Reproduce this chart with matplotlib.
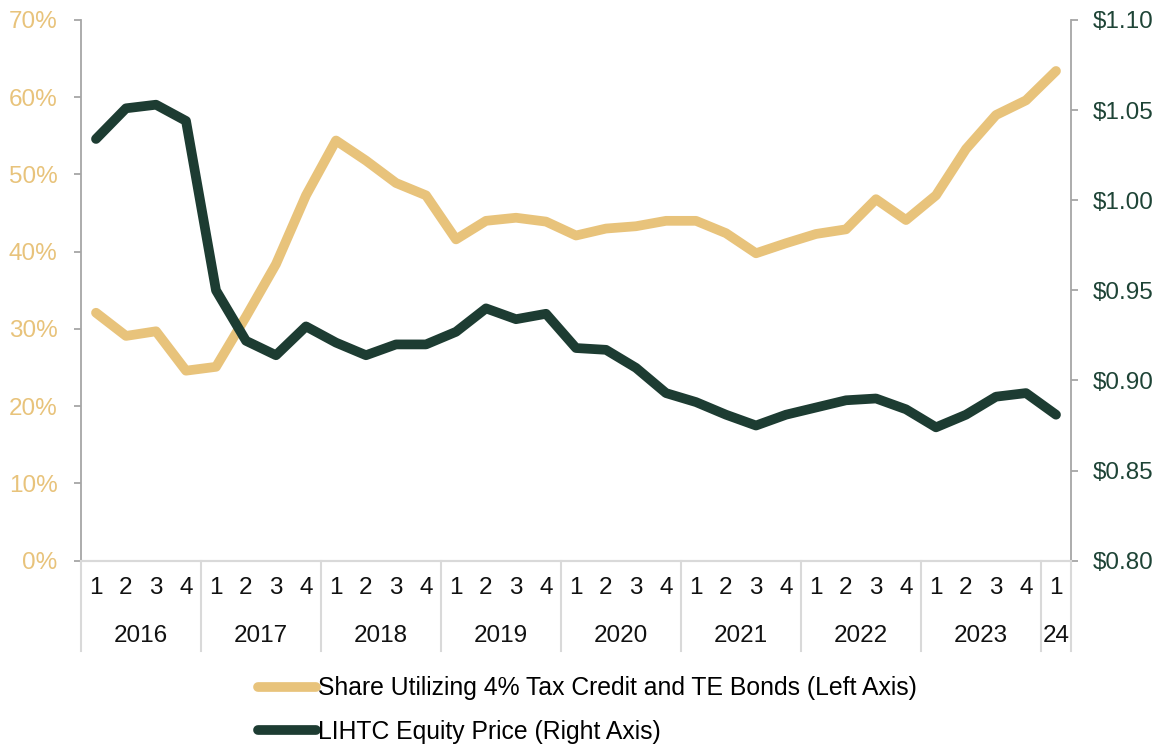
import matplotlib
matplotlib.use("Agg")
import matplotlib.pyplot as plt
from matplotlib.lines import Line2D
from matplotlib.ticker import FuncFormatter
import matplotlib.transforms as mtransforms

plt.rcParams['font.family'] = ['Liberation Sans', 'DejaVu Sans']

# quarterly series, 2016 Q1 .. 2024 Q1
years = ['2016', '2017', '2018', '2019', '2020', '2021', '2022', '2023', '24']
quarters = ['1', '2', '3', '4'] * 8 + ['1']

share_4pct = [32.1, 29.1, 29.7, 24.6,
              25.1, 31.6, 38.4, 47.3,
              54.4, 51.8, 48.9, 47.3,
              41.6, 44.0, 44.4, 43.9,
              42.1, 43.0, 43.3, 44.0,
              44.0, 42.4, 39.8, 41.1,
              42.3, 42.9, 46.8, 44.1,
              47.3, 53.3, 57.7, 59.6,
              63.4]

equity_price = [1.034, 1.051, 1.053, 1.044,
                0.950, 0.922, 0.914, 0.930,
                0.921, 0.914, 0.920, 0.920,
                0.927, 0.940, 0.934, 0.937,
                0.918, 0.917, 0.907, 0.893,
                0.888, 0.881, 0.875, 0.881,
                0.885, 0.889, 0.890, 0.884,
                0.874, 0.881, 0.891, 0.893,
                0.881]

gold = '#E8C37B'
green = '#1D3C32'
green_txt = '#1E4436'
spine_grey = '#A6A6A6'
sep_grey = '#D9D9D9'
fs = 17.5

fig = plt.figure(figsize=(11.61, 7.44), dpi=100)
ax = fig.add_axes([81 / 1161, 1 - 560.7 / 744, 990 / 1161, 540.7 / 744])
ax2 = ax.twinx()

x = list(range(len(share_4pct)))
ax.plot(x, share_4pct, color=gold, lw=7, solid_capstyle='round', zorder=2)
ax2.plot(x, equity_price, color=green, lw=7, solid_capstyle='round', zorder=3)

ax.set_xlim(-0.5, len(x) - 0.5)
ax.set_ylim(0, 70)
ax2.set_ylim(0.80, 1.10)
ax.set_yticks(range(0, 71, 10))
ax2.set_yticks([0.80, 0.85, 0.90, 0.95, 1.00, 1.05, 1.10])
ax.yaxis.set_major_formatter(FuncFormatter(lambda v, p: f'{v:.0f}%'))
ax2.yaxis.set_major_formatter(FuncFormatter(lambda v, p: f'${v:.2f}'))

for a in (ax, ax2):
    a.spines['top'].set_visible(False)
    a.spines['bottom'].set_color(sep_grey)
    a.spines['bottom'].set_linewidth(1.5)
ax.spines['right'].set_visible(False)
ax2.spines['left'].set_visible(False)
ax.spines['left'].set_color(spine_grey)
ax.spines['left'].set_linewidth(1.3)
ax2.spines['right'].set_color(spine_grey)
ax2.spines['right'].set_linewidth(1.3)

ax.tick_params(axis='y', colors=spine_grey, labelcolor=gold, labelsize=fs,
               length=5, width=1.3, pad=12)
ax2.tick_params(axis='y', colors=spine_grey, labelcolor=green_txt, labelsize=fs,
                length=5, width=1.3, pad=11)

ax.set_xticks(x)
ax.set_xticklabels(quarters)
ax.tick_params(axis='x', length=0, labelsize=fs, labelcolor='#111111', pad=12)

# year labels and separators under the axis
trans = mtransforms.blended_transform_factory(ax.transData, ax.transAxes)
bounds = list(range(0, len(x), 4)) + [len(x)]
for i, yr in enumerate(years):
    lo, hi = bounds[i], bounds[i + 1]
    ax.text((lo + hi - 1) / 2, -0.139, yr, transform=trans, ha='center',
            va='center', fontsize=fs, color='#111111')
for b in bounds:
    ax.add_line(Line2D([b - 0.5, b - 0.5], [0, -0.167], transform=trans,
                       color=sep_grey, lw=1.5, clip_on=False))

handles = [Line2D([], [], color=gold, lw=7, solid_capstyle='round'),
           Line2D([], [], color=green, lw=7, solid_capstyle='round')]
labels = ['Share Utilizing 4% Tax Credit and TE Bonds (Left Axis)',
          'LIHTC Equity Price (Right Axis)']
fig.legend(handles, labels, loc='upper left', bbox_to_anchor=(0.222, 0.091),
           frameon=False, fontsize=17.8, handlelength=2.35, handletextpad=0.1,
           labelspacing=0.78, borderpad=0, borderaxespad=0)

fig.savefig('out.png', dpi=100)
